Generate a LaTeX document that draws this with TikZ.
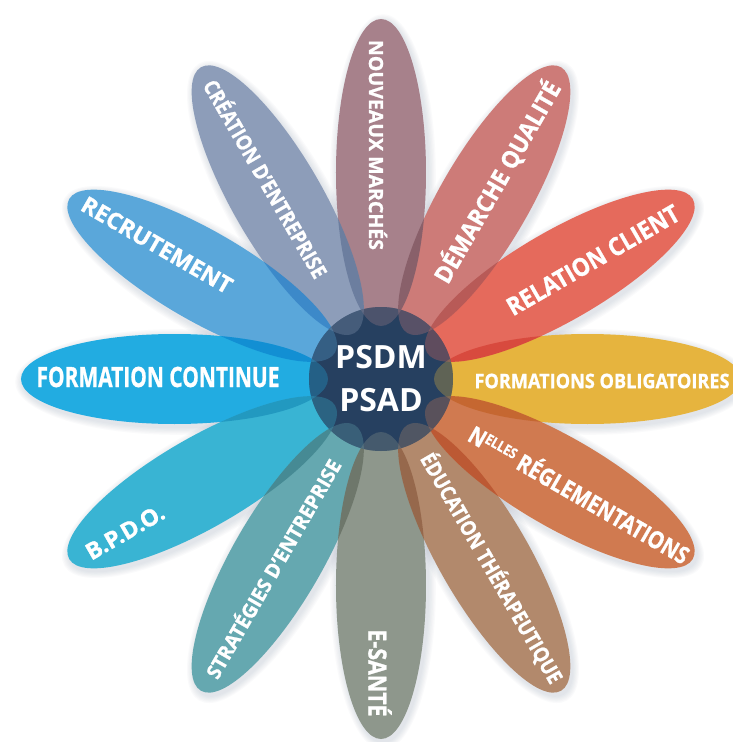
\documentclass[tikz,border=0pt]{standalone}
\usepackage{fontspec}
\setmainfont{Open Sans}
\newfontfamily\labfont{Open Sans}[BoldFeatures={FakeBold=1.1}]
\usepackage{graphicx}
\usetikzlibrary{shapes.geometric}
\definecolor{cNM}{RGB}{167,129,139}
\definecolor{cDQ}{RGB}{205,123,120}
\definecolor{cRC}{RGB}{229,106,92}
\definecolor{cFO}{RGB}{230,180,62}
\definecolor{cNR}{RGB}{208,122,80}
\definecolor{cET}{RGB}{178,137,108}
\definecolor{cES}{RGB}{142,151,140}
\definecolor{cSE}{RGB}{101,168,176}
\definecolor{cBP}{RGB}{57,180,211}
\definecolor{cFC}{RGB}{34,172,225}
\definecolor{cRE}{RGB}{90,167,218}
\definecolor{cCE}{RGB}{141,157,185}
\definecolor{navy}{RGB}{38,64,96}
\definecolor{shadowc}{RGB}{120,135,160}
\newcommand\flab[3]{\resizebox{#1pt}{\height}{\labfont\fontsize{#2pt}{#2pt}\selectfont\bfseries #3}}
\tikzset{
  petal/.style={ellipse, inner sep=0pt, minimum width=307pt, minimum height=90pt, draw=none},
  lab/.style={text=white, inner sep=0pt},
}
\begin{document}
\begin{tikzpicture}[x=1pt,y=1pt]
\useasboundingbox (-381,-363) rectangle (352,379);
\fill[white] (-381,-363) rectangle (352,379);
% soft shadows
\foreach \a in {0,30,...,330}{
  \foreach \k in {1,...,6}{
    \fill[shadowc, opacity=0.035, shift={(2,-3)}, shift={(\a:206.5)}, rotate=\a]
      (0,0) ellipse ({153.5+1.3*\k} and {45+1.3*\k});
  }
}
% petals
\node[petal, fill=cFO, rotate=0]   (pFO) at (0:206.5) {};
\node[petal, fill=cRC, rotate=30]  (pRC) at (30:206.5) {};
\node[petal, fill=cDQ, rotate=60]  (pDQ) at (60:206.5) {};
\node[petal, fill=cNM, rotate=90]  (pNM) at (90:206.5) {};
\node[petal, fill=cCE, rotate=120] (pCE) at (120:206.5) {};
\node[petal, fill=cRE, rotate=150] (pRE) at (150:206.5) {};
\node[petal, fill=cFC, rotate=180] (pFC) at (180:206.5) {};
\node[petal, fill=cBP, rotate=210] (pBP) at (210:206.5) {};
\node[petal, fill=cSE, rotate=240] (pSE) at (240:206.5) {};
\node[petal, fill=cES, rotate=270] (pES) at (270:206.5) {};
\node[petal, fill=cET, rotate=300] (pET) at (300:206.5) {};
\node[petal, fill=cNR, rotate=330] (pNR) at (330:206.5) {};
% overlaps of neighbouring petals
\foreach \a/\c in {0/cRC,30/cDQ,60/cNM,90/cCE,120/cRE,150/cFC,180/cBP,210/cSE,240/cES,270/cET,300/cNR,330/cFO}{
  \begin{scope}
    \path[clip, shift={(\a:206.5)}, rotate=\a] (0,0) ellipse (153.5 and 45);
    \fill[\c, blend mode=multiply, opacity=0.5, shift={({\a+30}:206.5)}, rotate={\a+30}] (0,0) ellipse (153.5 and 45);
  \end{scope}
}
% centre
\node[circle, fill=navy, minimum size=144pt, inner sep=0pt] (core) at (0,0) {};
\begin{scope}
\clip (core.center) circle (72);
\foreach \a/\c in {0/cFO,30/cRC,60/cDQ,90/cNM,120/cCE,150/cRE,180/cFC,210/cBP,240/cSE,270/cES,300/cET,330/cNR}{
  \fill[\c, opacity=0.3, shift={(\a:206.5)}, rotate=\a] (0,0) ellipse (153.5 and 45);
}
\end{scope}
\node[lab, align=center, font=\fontsize{32pt}{43pt}\selectfont\bfseries] (title) at (core.center) {PSDM\\PSAD};
% labels
\node[lab, rotate=-90] (tNM) at (-3,234)   {\flab{210}{19.5}{NOUVEAUX MARCHÉS}};
\node[lab, rotate=60]  (tDQ) at (116,197)  {\flab{228}{24}{DÉMARCHE QUALITÉ}};
\node[lab, rotate=30]  (tRC) at (212,119)  {\flab{195}{25}{RELATION CLIENT}};
\node[lab]             (tFO) at (221,-2)   {\flab{255}{20}{FORMATIONS OBLIGATOIRES}};
\node[lab, rotate=-30] (tNR) at (199,-114) {\flab{250}{24}{N\raisebox{0.29em}{\fontsize{14.5pt}{14.5pt}\selectfont ELLES} RÉGLEMENTATIONS}};
\node[lab, rotate=-60] (tET) at (111,-189) {\flab{262}{21}{ÉDUCATION THÉRAPEUTIQUE}};
\node[lab, rotate=-90] (tES) at (-1,-294)  {\flab{87}{25}{E-SANTÉ}};
\node[lab, rotate=60]  (tSE) at (-109,-189){\flab{249}{20}{STRATÉGIES D’ENTREPRISE}};
\node[lab, rotate=30]  (tBP) at (-256,-153){\flab{87}{23}{B.P.D.O.}};
\node[lab]             (tFC) at (-223,2)   {\flab{243}{28}{FORMATION CONTINUE}};
\node[lab, rotate=-30] (tRE) at (-224,134) {\flab{170}{23}{RECRUTEMENT}};
\node[lab, rotate=-60] (tCE) at (-114,201) {\flab{225}{21}{CRÉATION D’ENTREPRISE}};
\end{tikzpicture}
\end{document}
